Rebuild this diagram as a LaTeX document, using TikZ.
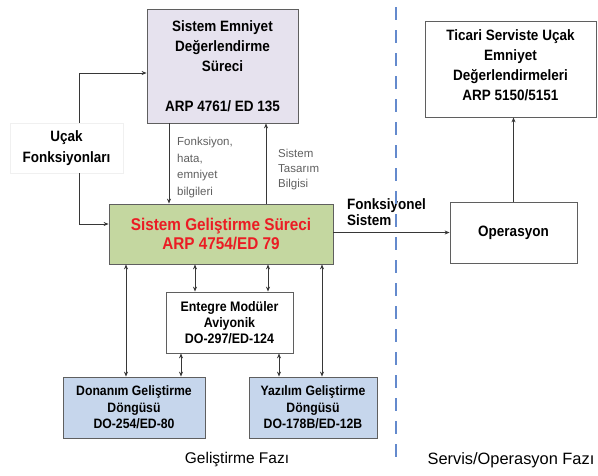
\documentclass[tikz,border=0pt]{standalone}
\usepackage{fontspec}
\setmainfont{Liberation Sans}
\newfontfamily\boxfont{Liberation Sans}[FakeStretch=0.9]
\usetikzlibrary{arrows.meta}

\definecolor{lavbox}{RGB}{230,226,238}
\definecolor{greenbox}{RGB}{196,215,160}
\definecolor{bluebox}{RGB}{198,214,236}
\definecolor{edgegray}{RGB}{95,95,95}
\definecolor{linkgray}{RGB}{55,55,55}
\definecolor{notegray}{RGB}{95,95,95}
\definecolor{titlered}{RGB}{235,28,36}
\definecolor{phaseblue}{RGB}{100,138,205}

\begin{document}
\begin{tikzpicture}[x=1pt,y=-1pt,
  box/.style={draw=edgegray, line width=0.8pt, align=center, inner sep=0pt},
  arr/.style={draw=linkgray, line width=0.8pt, -{Stealth[length=5pt,width=4pt]}},
  darr/.style={draw=linkgray, line width=0.8pt,
    {Stealth[length=5pt,width=4pt]}-{Stealth[length=5pt,width=4pt]}},
  note/.style={align=left, text=notegray, inner sep=0pt},
  phase/.style={inner sep=0pt},
]
\useasboundingbox (0,0) rectangle (598,475);

% column positions of the vertical connectors
\coordinate (xu) at (79,0);
\coordinate (xa) at (169,0);
\coordinate (xb) at (266,0);
\coordinate (xc) at (195,0);
\coordinate (xd) at (268,0);
\coordinate (xe) at (126,0);
\coordinate (xf) at (181,0);
\coordinate (xg) at (279,0);
\coordinate (xh) at (322,0);

% process boxes
\node[box, fill=lavbox, minimum width=151pt, minimum height=114pt,
      font=\boxfont\bfseries\fontsize{15}{20}\selectfont] (sea) at (222.5,66)
  {Sistem Emniyet\\Değerlendirme\\Süreci\\[20pt]ARP 4761/ ED 135};

\node[box, fill=greenbox, minimum width=224pt, minimum height=60pt, text=titlered,
      font=\boxfont\bfseries\fontsize{17}{19}\selectfont] (sgs) at (221,234)
  {Sistem Geliştirme Süreci\\ARP 4754/ED 79};

\node[box, fill=white, minimum width=127pt, minimum height=61pt,
      font=\boxfont\bfseries\fontsize{13.8}{16}\selectfont] (ima) at (229.5,322.5)
  {Entegre Modüler\\Aviyonik\\DO-297/ED-124};

\node[box, fill=bluebox, minimum width=142pt, minimum height=61pt,
      font=\boxfont\bfseries\fontsize{13.6}{16.5}\selectfont] (don) at (134,407.5)
  {Donanım Geliştirme\\Döngüsü\\DO-254/ED-80};

\node[box, fill=bluebox, minimum width=128pt, minimum height=61pt,
      font=\boxfont\bfseries\fontsize{13.6}{16.5}\selectfont] (yaz) at (313,407.5)
  {Yazılım Geliştirme\\Döngüsü\\DO-178B/ED-12B};

\node[box, fill=white, minimum width=171pt, minimum height=96pt] (tic) at (510.5,69) {};
\node[align=center, inner sep=0pt, font=\boxfont\bfseries\fontsize{15}{20}\selectfont] (tictxt)
  at (510.5,65) {Ticari Serviste Uçak\\Emniyet\\Değerlendirmeleri\\ARP 5150/5151};

\node[box, fill=white, minimum width=127pt, minimum height=61pt,
      font=\boxfont\bfseries\fontsize{15}{16}\selectfont] (ops) at (513.5,232.5) {Operasyon};

% side labels
\node[draw=gray!12, fill=white, minimum width=113pt, minimum height=50pt, align=center,
      inner sep=0pt, font=\boxfont\bfseries\fontsize{15}{21}\selectfont] (ucak) at (66.5,148)
  {Uçak\\Fonksiyonları};

\node[anchor=west, align=left, inner sep=0pt,
      font=\boxfont\bfseries\fontsize{15}{16}\selectfont] (fsis) at (347,212)
  {Fonksiyonel\\Sistem};

\node[note, anchor=west, font=\fontsize{11.5}{16.5}\selectfont] (n1) at (177,167.5)
  {Fonksiyon,\\hata,\\emniyet\\bilgileri};
\node[note, anchor=west, font=\fontsize{11.5}{15}\selectfont] (n2) at (278,170)
  {Sistem\\Tasarım\\Bilgisi};

% connectors
\draw[arr] (ucak.north -| xu) |- ([yshift=-7pt]sea.west);
\draw[arr] (ucak.south -| xu) |- ([yshift=10pt]sgs.west);
\draw[arr] (sea.south -| xa) -- (sgs.north -| xa);
\draw[arr] (sgs.north -| xb) -- (sea.south -| xb);
\draw[arr] (ops.west -| sgs.east) -- (ops.west);
\draw[arr] (ops.north) -- (ops.north |- tic.south);
\draw[darr] (sgs.south -| xc) -- (ima.north -| xc);
\draw[darr] (sgs.south -| xd) -- (ima.north -| xd);
\draw[darr] (sgs.south -| xe) -- (don.north -| xe);
\draw[darr] (ima.south -| xf) -- (don.north -| xf);
\draw[darr] (ima.south -| xg) -- (yaz.north -| xg);
\draw[darr] (sgs.south -| xh) -- (yaz.north -| xh);

% phase divider
\coordinate (dtop) at (396,7);
\coordinate (dbot) at (396,462);
\draw[phaseblue, line width=2.6pt, dash pattern=on 13pt off 10pt] (dtop) -- (dbot);

% phase titles
\node[phase, font=\fontsize{15.5}{18}\selectfont] (devphase) at (237,460) {Geliştirme Fazı};
\node[phase, font=\fontsize{16.4}{18}\selectfont] (opphase) at (511,460) {Servis/Operasyon Fazı};
\end{tikzpicture}
\end{document}
